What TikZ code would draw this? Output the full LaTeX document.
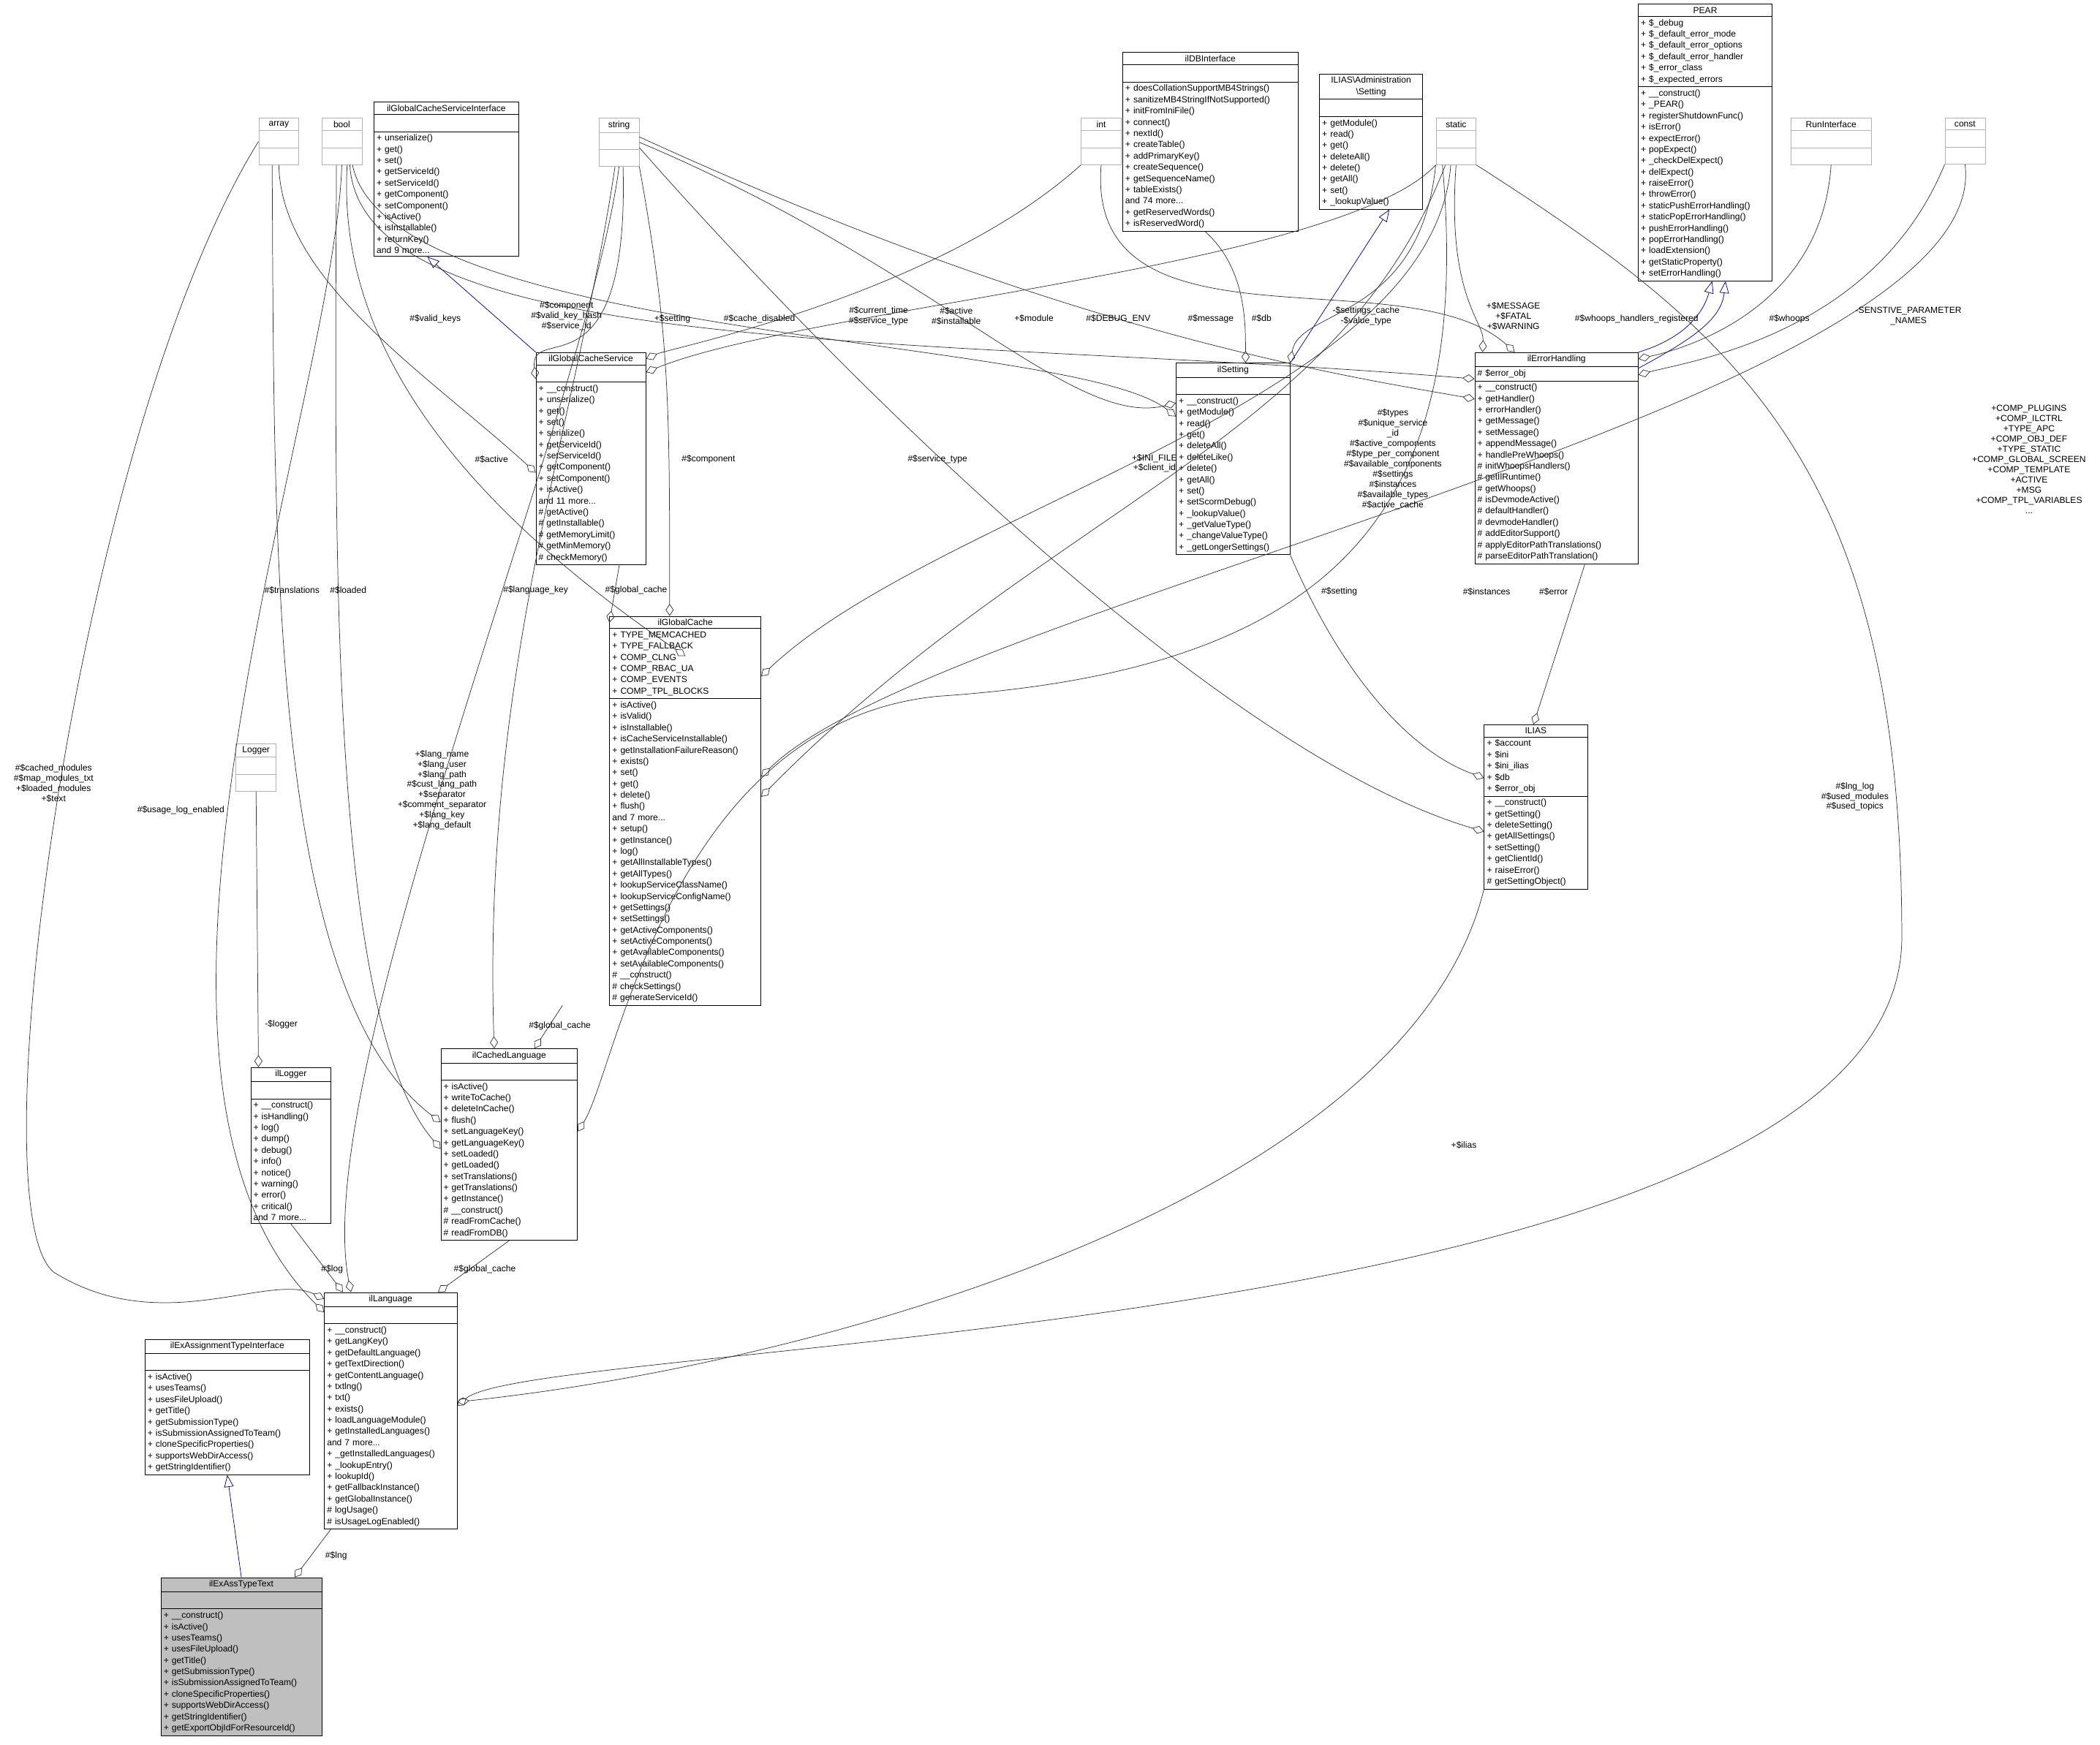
\documentclass[tikz,border=0pt]{standalone}
\usepackage{fontspec}
\setmainfont{Liberation Sans}
\usetikzlibrary{shapes.multipart, arrows.meta, positioning}

\begin{document}
\begin{tikzpicture}[
        x=1pt, y=-1pt,
        % classes
        cls/.style={
                rectangle split,
                rectangle split parts=3,
                draw,
                anchor=north west,
                inner sep=2pt,
                align=left,
                font=\fontsize{6.6}{8.4}\selectfont,
                text width=#1
            },
        typebox/.style={
                rectangle split,
                rectangle split parts=3,
                draw=gray!60,
                anchor=north west,
                inner sep=2pt,
                font=\fontsize{6.6}{8.4}\selectfont,
                text width=26pt,
                align=center
            },
        % connectors
        agg/.style={-{Diamond[open,length=9pt,width=6pt]}, draw=black!80, line width=0.4pt},
        inherit/.style={-{Triangle[open,length=9pt,width=7pt]}, draw=blue!40!black, line width=0.4pt},
        lbl/.style={font=\fontsize{6.6}{7.6}\selectfont, align=center, inner sep=0pt}
    ]
    \useasboundingbox (0,0) rectangle (1568,1303);
    \newcommand\ttl[1]{\hfill#1\hfill\null}

    % TYPES (grey)
    \node[typebox] (array) at (193,88) {array\nodepart{two}\strut\nodepart{three}\strut};
    \node[typebox] (bool) at (240,88) {bool\nodepart{two}\strut\nodepart{three}\strut};
    \node[typebox] (string) at (447,88) {string\nodepart{two}\strut\nodepart{three}\strut};
    \node[typebox] (int) at (807,88) {int\nodepart{two}\strut\nodepart{three}\strut};
    \node[typebox] (static) at (1072,88) {static\nodepart{two}\strut\nodepart{three}\strut};
    \node[typebox, text width=56pt] (runif) at (1337,88) {RunInterface\nodepart{two}\strut\nodepart{three}\strut};
    \node[typebox] (const) at (1452,88) {const\nodepart{two}\strut\nodepart{three}\strut};
    \node[typebox] (logger) at (176,555) {Logger\nodepart{two}\strut\nodepart{three}\strut};

    % INTERFACES / BASES
    \node[cls=104pt] (cacheif) at (279,76) {\ttl{ilGlobalCacheServiceInterface}\nodepart{two}\strut\nodepart{three}
        + unserialize()\\+ get()\\+ set()\\+ getServiceId()\\+ setServiceId()\\+ getComponent()\\+ setComponent()\\+ isActive()\\+ isInstallable()\\+ returnKey()\\and 9 more...};
    \node[cls=127pt] (dbif) at (838,39) {\ttl{ilDBInterface}\nodepart{two}\strut\nodepart{three}
        + doesCollationSupportMB4Strings()\\+ sanitizeMB4StringIfNotSupported()\\+ initFromIniFile()\\+ connect()\\+ nextId()\\+ createTable()\\+ addPrimaryKey()\\+ createSequence()\\+ getSequenceName()\\+ tableExists()\\and 74 more...\\+ getReservedWords()\\+ isReservedWord()};
    \node[cls=73pt] (admset) at (985,55) {\ttl{ILIAS\textbackslash Administration}\\\ttl{\textbackslash Setting}\nodepart{two}\strut\nodepart{three}
        + getModule()\\+ read()\\+ get()\\+ deleteAll()\\+ delete()\\+ getAll()\\+ set()\\+ \_lookupValue()};
    \node[cls=96pt] (pear) at (1223,3) {\ttl{PEAR}\nodepart{two}
        + \$\_debug\\+ \$\_default\_error\_mode\\+ \$\_default\_error\_options\\+ \$\_default\_error\_handler\\+ \$\_error\_class\\+ \$\_expected\_errors\nodepart{three}
        + \_\_construct()\\+ \_PEAR()\\+ registerShutdownFunc()\\+ isError()\\+ expectError()\\+ popExpect()\\+ \_checkDelExpect()\\+ delExpect()\\+ raiseError()\\+ throwError()\\+ staticPushErrorHandling()\\+ staticPopErrorHandling()\\+ pushErrorHandling()\\+ popErrorHandling()\\+ loadExtension()\\+ getStaticProperty()\\+ setErrorHandling()};

    % SERVICES
    \node[cls=78pt] (cachesvc) at (400,263) {\ttl{ilGlobalCacheService}\nodepart{two}\strut\nodepart{three}
        + \_\_construct()\\+ unserialize()\\+ get()\\+ set()\\+ serialize()\\+ getServiceId()\\+ setServiceId()\\+ getComponent()\\+ setComponent()\\+ isActive()\\and 11 more...\\\# getActive()\\\# getInstallable()\\\# getMemoryLimit()\\\# getMinMemory()\\\# checkMemory()};
    \node[cls=81pt] (setting) at (878,271) {\ttl{ilSetting}\nodepart{two}\strut\nodepart{three}
        + \_\_construct()\\+ getModule()\\+ read()\\+ get()\\+ deleteAll()\\+ deleteLike()\\+ delete()\\+ getAll()\\+ set()\\+ setScormDebug()\\+ \_lookupValue()\\+ \_getValueType()\\+ \_changeValueType()\\+ \_getLongerSettings()};
    \node[cls=118pt] (errh) at (1101,263) {\ttl{ilErrorHandling}\nodepart{two}
        \# \$error\_obj\nodepart{three}
        + \_\_construct()\\+ getHandler()\\+ errorHandler()\\+ getMessage()\\+ setMessage()\\+ appendMessage()\\+ handlePreWhoops()\\\# initWhoopsHandlers()\\\# getIlRuntime()\\\# getWhoops()\\\# isDevmodeActive()\\\# defaultHandler()\\\# devmodeHandler()\\\# addEditorSupport()\\\# applyEditorPathTranslations()\\\# parseEditorPathTranslation()};
    \node[cls=109pt] (gcache) at (455,460) {\ttl{ilGlobalCache}\nodepart{two}
        + TYPE\_MEMCACHED\\+ TYPE\_FALLBACK\\+ COMP\_CLNG\\+ COMP\_RBAC\_UA\\+ COMP\_EVENTS\\+ COMP\_TPL\_BLOCKS\nodepart{three}
        + isActive()\\+ isValid()\\+ isInstallable()\\+ isCacheServiceInstallable()\\+ getInstallationFailureReason()\\+ exists()\\+ set()\\+ get()\\+ delete()\\+ flush()\\and 7 more...\\+ setup()\\+ getInstance()\\+ log()\\+ getAllInstallableTypes()\\+ getAllTypes()\\+ lookupServiceClassName()\\+ lookupServiceConfigName()\\+ getSettings()\\+ setSettings()\\+ getActiveComponents()\\+ setActiveComponents()\\+ getAvailableComponents()\\+ setAvailableComponents()\\\# \_\_construct()\\\# checkSettings()\\\# generateServiceId()};
    \node[cls=73pt] (ilias) at (1108,541) {\ttl{ILIAS}\nodepart{two}
        + \$account\\+ \$ini\\+ \$ini\_ilias\\+ \$db\\+ \$error\_obj\nodepart{three}
        + \_\_construct()\\+ getSetting()\\+ deleteSetting()\\+ getAllSettings()\\+ setSetting()\\+ getClientId()\\+ raiseError()\\\# getSettingObject()};

    % LANGUAGE
    \node[cls=98pt] (clang) at (329,783) {\ttl{ilCachedLanguage}\nodepart{two}\strut\nodepart{three}
        + isActive()\\+ writeToCache()\\+ deleteInCache()\\+ flush()\\+ setLanguageKey()\\+ getLanguageKey()\\+ setLoaded()\\+ getLoaded()\\+ setTranslations()\\+ getTranslations()\\+ getInstance()\\\# \_\_construct()\\\# readFromCache()\\\# readFromDB()};
    \node[cls=56pt] (illogger) at (187,797) {\ttl{ilLogger}\nodepart{two}\strut\nodepart{three}
        + \_\_construct()\\+ isHandling()\\+ log()\\+ dump()\\+ debug()\\+ info()\\+ notice()\\+ warning()\\+ error()\\+ critical()\\and 7 more...};
    \node[cls=95pt] (lang) at (242,965) {\ttl{ilLanguage}\nodepart{two}\strut\nodepart{three}
        + \_\_construct()\\+ getLangKey()\\+ getDefaultLanguage()\\+ getTextDirection()\\+ getContentLanguage()\\+ txtlng()\\+ txt()\\+ exists()\\+ loadLanguageModule()\\+ getInstalledLanguages()\\and 7 more...\\+ \_getInstalledLanguages()\\+ \_lookupEntry()\\+ lookupId()\\+ getFallbackInstance()\\+ getGlobalInstance()\\\# logUsage()\\\# isUsageLogEnabled()};
    \node[cls=119pt] (exif) at (108,1000) {\ttl{ilExAssignmentTypeInterface}\nodepart{two}\strut\nodepart{three}
        + isActive()\\+ usesTeams()\\+ usesFileUpload()\\+ getTitle()\\+ getSubmissionType()\\+ isSubmissionAssignedToTeam()\\+ cloneSpecificProperties()\\+ supportsWebDirAccess()\\+ getStringIdentifier()};
    \node[cls=116pt, fill=gray!50] (text) at (120,1178) {\ttl{ilExAssTypeText}\nodepart{two}\strut\nodepart{three}
        + \_\_construct()\\+ isActive()\\+ usesTeams()\\+ usesFileUpload()\\+ getTitle()\\+ getSubmissionType()\\+ isSubmissionAssignedToTeam()\\+ cloneSpecificProperties()\\+ supportsWebDirAccess()\\+ getStringIdentifier()\\+ getExportObjIdForResourceId()};

    % INHERITANCE
    \draw[inherit] (text.north) -- (exif.south);
    \draw[inherit] (cachesvc.north west) -- ([xshift=40]cacheif.south west);
    \draw[inherit] (setting.north east) -- ([xshift=-25]admset.south east);
    \draw[inherit] (errh.north east) .. controls (1250,255) and (1270,240) .. ([xshift=-45]pear.south east);
    \draw[inherit] ([yshift=-12]errh.north east) .. controls (1260,255) and (1285,240) .. ([xshift=-35]pear.south east);

    % AGGREGATION
    \draw[agg] (array.west) .. controls (60,320) and (-20,900) .. (40,950) .. controls (120,1000) and (200,950) .. ([yshift=-5]lang.north west);
    \draw[agg] (array.south) .. controls (210,210) and (320,280) .. ([yshift=-90]cachesvc.north west);
    \draw[agg] ([xshift=-5]array.south) .. controls (205,400) and (200,740) .. ([yshift=-55]clang.north west);
    \draw[agg] (bool.south) .. controls (250,300) and (60,800) .. ([yshift=-15]lang.north west);
    \draw[agg] ([xshift=-4]bool.south) .. controls (250,400) and (245,760) .. ([yshift=-75]clang.north west);
    \draw[agg] ([xshift=4]bool.south) .. controls (250,280) and (380,400) .. ([yshift=-30]gcache.north);
    \draw[agg] ([xshift=6]bool.south) .. controls (270,270) and (700,250) .. ([yshift=-20]errh.north west);
    \draw[agg] ([xshift=8]bool.south) .. controls (290,255) and (800,250) .. ([yshift=-40]setting.north west);
    \draw[agg] (string.south) .. controls (440,300) and (230,800) .. ([xshift=20]lang.north west);
    \draw[agg] ([xshift=-3]string.south) .. controls (430,320) and (360,500) .. ([xshift=40]clang.north west);
    \draw[agg] ([xshift=3]string.south) .. controls (470,300) and (395,240) .. ([yshift=-20]cachesvc.north west);
    \draw[agg] (string.south east) .. controls (500,250) and (500,300) .. ([xshift=45]gcache.north west);
    \draw[agg] (string.east) .. controls (700,200) and (800,320) .. ([yshift=-30]setting.north west);
    \draw[agg] ([yshift=4]string.east) .. controls (800,250) and (1000,280) .. ([yshift=-35]errh.north west);
    \draw[agg] ([yshift=-4]string.east) .. controls (600,250) and (900,560) .. ([yshift=-80]ilias.north west);
    \draw[agg] (int.south west) .. controls (700,220) and (500,260) .. ([yshift=-5]cachesvc.north east);
    \draw[agg] (int.south) .. controls (810,270) and (1050,190) .. ([xshift=30]errh.north west);
    \draw[agg] ([xshift=-4]dbif.south) .. controls (930,200) and (930,240) .. ([xshift=52]setting.north west);
    \draw[agg] (static.south west) .. controls (1060,240) and (970,230) .. (setting.north east);
    \draw[agg] (static.south) .. controls (1080,220) and (1108,240) .. ([xshift=6]errh.north west);
    \draw[agg] ([xshift=-4]static.south) .. controls (1070,300) and (700,380) .. ([yshift=-45]gcache.north east);
    \draw[agg] ([xshift=-8]static.south) .. controls (1000,330) and (780,380) .. ([yshift=-135]gcache.north east);
    \draw[agg] (static.south east) .. controls (1300,250) and (1420,350) .. (1420,700) .. controls (1420,1000) and (400,1000) .. ([yshift=-85]lang.north east);
    \draw[agg] (static.south west) .. controls (1000,200) and (600,230) .. ([yshift=-15]cachesvc.north east);
    \draw[agg] (runif.south) .. controls (1360,230) and (1260,260) .. ([yshift=-5]errh.north east);
    \draw[agg] (const.south west) .. controls (1400,250) and (1260,270) .. ([yshift=-17]errh.north east);
    \draw[agg] (const.south) .. controls (1490,300) and (700,450) .. ([yshift=-120]gcache.north east);
    \draw[agg] ([xshift=5]static.south west) .. controls (1100,380) and (1000,500) .. (700,520) .. controls (500,540) and (460,800) .. ([yshift=-62]clang.north east);
    \draw[agg] (setting.south east) .. controls (1000,500) and (1050,560) .. ([yshift=-40]ilias.north west);
    \draw[agg] ([xshift=-40]errh.south east) -- ([xshift=37]ilias.north west);
    \draw[agg] (ilias.south west) .. controls (1050,900) and (600,1020) .. ([yshift=-82]lang.north east);
    \draw[agg] ([xshift=-35]gcache.south west) -- ([xshift=70]clang.north west);
    \draw[agg] ([xshift=-20]cachesvc.south east) -- ([yshift=-5]gcache.north west);
    \draw[agg] (logger.south) -- ([xshift=6]illogger.north west);
    \draw[agg] (illogger.south) -- ([xshift=14]lang.north west);
    \draw[agg] (clang.south) -- ([xshift=85]lang.north west);
    \draw[agg] ([xshift=5]lang.south west) -- ([xshift=100]text.north west);

    % LABELS
    \node[lbl] (lCached) at (40,585) {\#\$cached\_modules\\\#\$map\_modules\_txt\\+\$loaded\_modules\\+\$text};
    \node[lbl] (lUsage) at (135,605) {\#\$usage\_log\_enabled};
    \node[lbl] (lTransl) at (218,441) {\#\$translations};
    \node[lbl] (lLoaded) at (260,441) {\#\$loaded};
    \node[lbl] (lLangKey) at (400,441) {\#\$language\_key};
    \node[lbl] (lGcache1) at (475,441) {\#\$global\_cache};
    \node[lbl] (lActive) at (367,343) {\#\$active};
    \node[lbl] (lComp) at (529,343) {\#\$component};
    \node[lbl] (lSvcType) at (700,343) {\#\$service\_type};
    \node[lbl] (lValid) at (325,238) {\#\$valid\_keys};
    \node[lbl] (lCompHash) at (423,236) {\#\$component\\\#\$valid\_key\_hash\\\#\$service\_id};
    \node[lbl] (lSetting) at (502,238) {+\$setting};
    \node[lbl] (lCacheDis) at (567,238) {\#\$cache\_disabled};
    \node[lbl] (lCurTime) at (656,236) {\#\$current\_time\\\#\$service\_type};
    \node[lbl] (lActInst) at (714,236) {\#\$active\\\#\$installable};
    \node[lbl] (lModule) at (772,238) {+\$module};
    \node[lbl] (lDebug) at (835,238) {\#\$DEBUG\_ENV};
    \node[lbl] (lMsg) at (904,238) {\#\$message};
    \node[lbl] (lDb) at (942,238) {\#\$db};
    \node[lbl] (lSetCache) at (1020,236) {-\$settings\_cache\\-\$value\_type};
    \node[lbl] (lFatal) at (1130,236) {+\$MESSAGE\\+\$FATAL\\+\$WARNING};
    \node[lbl] (lWhReg) at (1222,238) {\#\$whoops\_handlers\_registered};
    \node[lbl] (lWhoops) at (1336,238) {\#\$whoops};
    \node[lbl] (lSens) at (1425,236) {-SENSTIVE\_PARAMETER\\\_NAMES};
    \node[lbl] (lIni) at (862,346) {+\$INI\_FILE\\+\$client\_id};
    \node[lbl] (lTypes) at (1040,343) {\#\$types\\\#\$unique\_service\\\_id\\\#\$active\_components\\\#\$type\_per\_component\\\#\$available\_components\\\#\$settings\\\#\$instances\\\#\$available\_types\\\#\$active\_cache};
    \node[lbl] (lComps) at (1515,343) {+COMP\_PLUGINS\\+COMP\_ILCTRL\\+TYPE\_APC\\+COMP\_OBJ\_DEF\\+TYPE\_STATIC\\+COMP\_GLOBAL\_SCREEN\\+COMP\_TEMPLATE\\+ACTIVE\\+MSG\\+COMP\_TPL\_VARIABLES\\...};
    \node[lbl] (lSetting2) at (1000,442) {\#\$setting};
    \node[lbl] (lInst) at (1110,442) {\#\$instances};
    \node[lbl] (lErr) at (1160,442) {\#\$error};
    \node[lbl] (lLngLog) at (1385,595) {\#\$lng\_log\\\#\$used\_modules\\\#\$used\_topics};
    \node[lbl] (lLangName) at (330,590) {+\$lang\_name\\+\$lang\_user\\+\$lang\_path\\\#\$cust\_lang\_path\\+\$separator\\+\$comment\_separator\\+\$lang\_key\\+\$lang\_default};
    \node[lbl] (lGcache2) at (418,766) {\#\$global\_cache};
    \node[lbl] (lLogger) at (210,765) {-\$logger};
    \node[lbl] (lLog) at (248,948) {\#\$log};
    \node[lbl] (lGcache3) at (362,948) {\#\$global\_cache};
    \node[lbl] (lIlias) at (1093,855) {+\$ilias};
    \node[lbl] (lLng) at (251,1162) {\#\$lng};
\end{tikzpicture}
\end{document}
